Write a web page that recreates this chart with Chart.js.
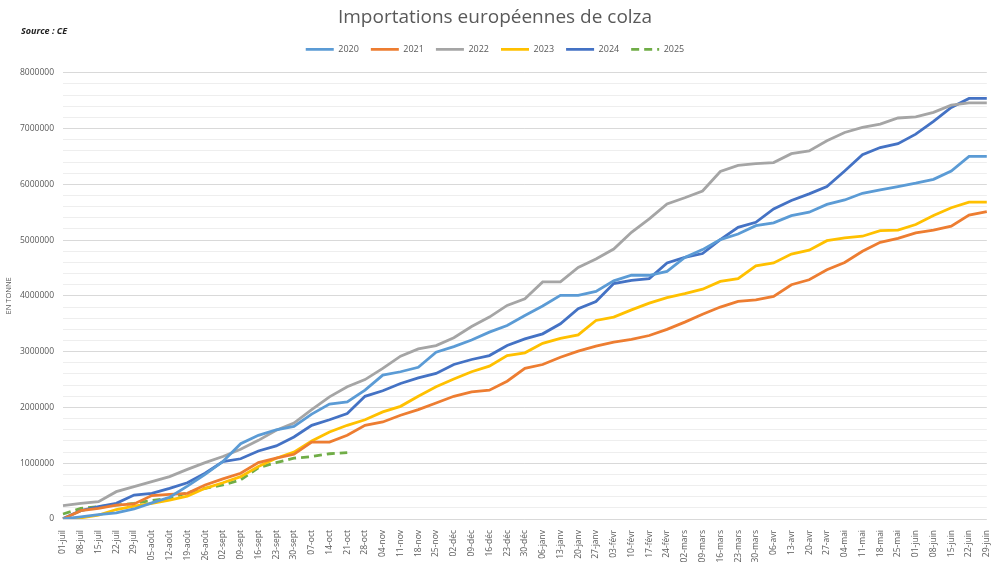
<!DOCTYPE html>
<html>
<head>
<meta charset="utf-8">
<script src="https://cdn.jsdelivr.net/npm/chart.js@4.4.1/dist/chart.umd.min.js"></script>
<style>
  html, body { margin: 0; padding: 0; background: #fff; }
  #wrap { width: 1000px; height: 562px; }
</style>
</head>
<body>
<div id="wrap"><canvas id="graphique"></canvas></div>
<script>
// semaines (campagne juillet -> juin)
const semaines = ["01-juil","08-juil","15-juil","22-juil","29-juil","05-août","12-août","19-août","26-août",
  "02-sept","09-sept","16-sept","23-sept","30-sept","07-oct","14-oct","21-oct","28-oct",
  "04-nov","11-nov","18-nov","25-nov","02-déc","09-déc","16-déc","23-déc","30-déc",
  "06-janv","13-janv","20-janv","27-janv","03-févr","10-févr","17-févr","24-févr",
  "02-mars","09-mars","16-mars","23-mars","30-mars","06-avr","13-avr","20-avr","27-avr",
  "04-mai","11-mai","18-mai","25-mai","01-juin","08-juin","15-juin","22-juin","29-juin"];

// cumuls en tonnes
const imp2020 = [0,40000,80000,110000,180000,290000,390000,590000,800000,1030000,1350000,1500000,1600000,1660000,1880000,2060000,2100000,2310000,2580000,2640000,2720000,2990000,3090000,3210000,3350000,3470000,3650000,3820000,4010000,4010000,4080000,4270000,4370000,4370000,4440000,4690000,4830000,5010000,5110000,5260000,5310000,5440000,5500000,5640000,5720000,5840000,5900000,5960000,6020000,6090000,6240000,6500000,6500000];
const imp2021 = [0,150000,190000,250000,270000,420000,440000,460000,610000,720000,820000,1010000,1090000,1160000,1380000,1380000,1500000,1680000,1740000,1860000,1960000,2080000,2200000,2280000,2310000,2470000,2700000,2770000,2900000,3010000,3100000,3170000,3220000,3290000,3400000,3530000,3670000,3800000,3900000,3930000,3990000,4200000,4290000,4470000,4600000,4800000,4960000,5030000,5130000,5180000,5250000,5450000,5510000];
const imp2022 = [240000,280000,310000,490000,580000,670000,760000,890000,1010000,1120000,1250000,1410000,1590000,1720000,1960000,2190000,2370000,2500000,2700000,2920000,3050000,3110000,3250000,3450000,3620000,3830000,3950000,4250000,4250000,4510000,4660000,4840000,5140000,5380000,5650000,5760000,5880000,6230000,6340000,6370000,6390000,6550000,6600000,6780000,6930000,7020000,7080000,7190000,7210000,7290000,7420000,7460000,7460000];
const imp2023 = [0,20000,70000,170000,230000,280000,340000,410000,550000,650000,760000,940000,1090000,1200000,1400000,1560000,1680000,1780000,1920000,2020000,2200000,2370000,2510000,2640000,2740000,2930000,2980000,3150000,3240000,3300000,3560000,3620000,3750000,3870000,3970000,4040000,4120000,4260000,4310000,4540000,4590000,4750000,4820000,4990000,5040000,5070000,5170000,5180000,5280000,5440000,5580000,5680000,5680000];
const imp2024 = [10000,150000,220000,280000,430000,460000,550000,650000,820000,1030000,1080000,1220000,1310000,1470000,1680000,1780000,1890000,2200000,2300000,2430000,2530000,2610000,2770000,2860000,2930000,3110000,3230000,3320000,3500000,3770000,3900000,4220000,4280000,4310000,4590000,4690000,4760000,5010000,5230000,5320000,5560000,5710000,5830000,5960000,6240000,6530000,6660000,6730000,6900000,7130000,7380000,7540000,7540000];
const imp2025 = [90000,190000,220000,250000,280000,330000,370000,470000,550000,610000,700000,920000,1010000,1090000,1120000,1170000,1190000];

const gris = "#595959";
const police = "'Open Sans', sans-serif";

// petit texte "Source : CE" en haut à gauche
const sourcePlugin = {
  id: "source",
  afterDraw(chart) {
    const ctx = chart.ctx;
    ctx.save();
    ctx.font = "italic bold 9px " + police;
    ctx.fillStyle = "#222";
    ctx.textBaseline = "middle";
    ctx.fillText("Source : CE", 21, 31);
    ctx.restore();
  }
};

// un peu d'espace sous la légende
const espaceLegende = {
  id: "espaceLegende",
  beforeInit(chart) {
    const fitOrig = chart.legend.fit;
    chart.legend.fit = function () {
      fitOrig.bind(chart.legend)();
      this.height += 9;
    };
  }
};

function serie(label, data, couleur, pointilles) {
  return {
    label: label,
    data: data,
    borderColor: couleur,
    backgroundColor: couleur,
    borderWidth: 2.8,
    borderDash: pointilles ? [8, 5] : [],
    pointRadius: 0,
    tension: 0,
    fill: false
  };
}

new Chart(document.getElementById("graphique"), {
  type: "line",
  data: {
    labels: semaines,
    datasets: [
      serie("2020", imp2020, "#5B9BD5"),
      serie("2021", imp2021, "#ED7D31"),
      serie("2022", imp2022, "#A5A5A5"),
      serie("2023", imp2023, "#FFC000"),
      serie("2024", imp2024, "#4472C4"),
      serie("2025", imp2025, "#70AD47", true)
    ]
  },
  options: {
    responsive: true,
    maintainAspectRatio: false,
    animation: false,
    layout: { padding: { left: 0, right: 10, top: 0, bottom: 0 } },
    plugins: {
      title: {
        display: true,
        text: "Importations européennes de colza",
        color: gris,
        font: { family: police, size: 19, weight: "normal" },
        padding: { top: 6, bottom: 4 }
      },
      legend: {
        display: true,
        labels: {
          usePointStyle: true,
          pointStyle: "line",
          pointStyleWidth: 28,
          color: gris,
          font: { family: police, size: 9 },
          padding: 12,
          // garder le pointillé de 2025 dans la légende
          generateLabels(chart) {
            return chart.data.datasets.map((ds, i) => ({
              text: ds.label,
              datasetIndex: i,
              fillStyle: ds.borderColor,
              strokeStyle: ds.borderColor,
              lineWidth: ds.borderWidth,
              lineDash: ds.borderDash,
              pointStyle: "line",
              fontColor: gris,
              hidden: false
            }));
          }
        }
      },
      tooltip: { enabled: false }
    },
    scales: {
      x: {
        offset: false,
        grid: { display: false },
        border: { display: false },
        ticks: {
          autoSkip: false,
          minRotation: 90,
          maxRotation: 90,
          color: gris,
          font: { family: police, size: 8.5 },
          padding: 3
        },
        afterFit(scale) { scale.height = 43; }
      },
      y: {
        min: 0,
        max: 8000000,
        border: { display: false },
        grid: {
          drawTicks: false,
          color: ctx => (ctx.tick && ctx.tick.value % 1000000 === 0) ? "#d9d9d9" : "#eeeeee",
          lineWidth: 1
        },
        ticks: {
          autoSkip: false,
          stepSize: 200000,
          padding: 9,
          color: gris,
          font: { family: police, size: 8.5 },
          callback: v => (v % 1000000 === 0 ? String(v) : "")
        },
        title: {
          display: true,
          text: "EN TONNE",
          color: gris,
          font: { family: police, size: 7.5 },
          padding: { top: 4, bottom: 2 }
        },
        afterFit(scale) { scale.width = 63; }
      }
    }
  },
  plugins: [sourcePlugin, espaceLegende]
});
</script>
</body>
</html>
